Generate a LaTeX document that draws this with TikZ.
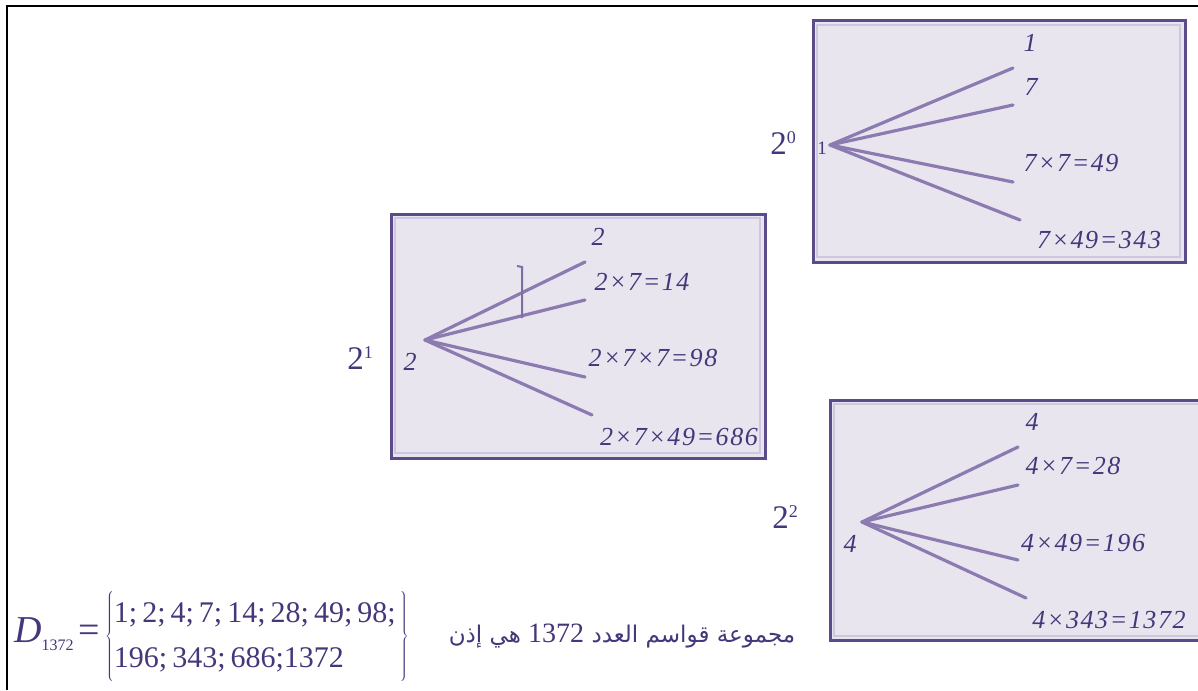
\documentclass[tikz,border=0pt]{standalone}
\usepackage{fontspec}
\setmainfont{Liberation Serif}
\newfontfamily\lblfont[LetterSpace=6]{Liberation Serif}
\newfontfamily\arabicfont[Script=Arabic]{DejaVu Sans}
\TeXXeTstate=1
\definecolor{boxfill}{HTML}{E9E5EF}
\definecolor{boxdraw}{HTML}{5B4B8B}
\definecolor{boxinner}{HTML}{CFC6DF}
\definecolor{branch}{HTML}{8B7BB0}
\definecolor{txt}{HTML}{46367A}
\newcommand{\supsc}[1]{\raisebox{11pt}{\fontsize{18}{18}\selectfont #1}}
\tikzset{
  panel/.style={draw=boxdraw, line width=3pt, fill=boxfill},
  innerline/.style={draw=boxinner, line width=1.2pt},
  branchline/.style={draw=branch, line width=3.2pt, line cap=round},
  markline/.style={draw=boxdraw!80, line width=2pt},
  lbl/.style={text=txt, font=\fontsize{26}{28}\selectfont\lblfont\itshape, inner sep=0pt},
  rootsmall/.style={text=txt, font=\fontsize{19}{20}\selectfont, inner sep=0pt},
  pow/.style={text=txt, font=\fontsize{33}{34}\selectfont, inner sep=0pt},
  formula/.style={text=txt, font=\fontsize{30}{45}\selectfont, inner sep=0pt},
  arab/.style={text=txt, font=\fontsize{23}{26}\selectfont, inner sep=0pt},
  frameline/.style={draw=black, line width=2.5pt}
}
\begin{document}
\begin{tikzpicture}[x=1pt,y=-1pt]
\useasboundingbox (0,0) rectangle (1198,690);
\draw[frameline] (7,690) -- (7,6) -- (1198,6);

% Panel 2^0
\path[panel] (813,21) rectangle (1185,262);
\draw[innerline] (817,25) rectangle (1180,257);
\coordinate (a0) at (830,145);
\coordinate (a1) at (1013,68);
\coordinate (a2) at (1013,105);
\coordinate (a3) at (1013,182);
\coordinate (a4) at (1020,220);
\foreach \e in {a1,a2,a3,a4} \draw[branchline] (a0) -- (\e);
\node[rootsmall] (ar0) at (822,148) {1};
\node[lbl] (al1) at (1030,43) {1};
\node[lbl] (al2) at (1031,87) {7};
\node[lbl] (al3) at (1071,163) {7×7=49};
\node[lbl] (al4) at (1099,240) {7×49=343};
\node[pow] (p0) at (783,143) {2\supsc{0}};

% Panel 2^1
\path[panel] (391,214) rectangle (765,458);
\draw[innerline] (395,218) rectangle (760,453);
\coordinate (b0) at (425,340);
\coordinate (b1) at (585,262);
\coordinate (b2) at (585,300);
\coordinate (b3) at (585,377);
\coordinate (b4) at (592,415);
\foreach \e in {b1,b2,b3,b4} \draw[branchline] (b0) -- (\e);
\coordinate (m0) at (517,266);
\coordinate (m1) at (522,267);
\coordinate (m2) at (522,318);
\draw[markline] (m0) -- (m1) -- (m2);
\node[lbl] (br0) at (410,362) {2};
\node[lbl] (bl1) at (598,237) {2};
\node[lbl] (bl2) at (642,282) {2×7=14};
\node[lbl] (bl3) at (653,358) {2×7×7=98};
\node[lbl] (bl4) at (679,437) {2×7×49=686};
\node[pow] (p1) at (360,358) {2\supsc{1}};

% Panel 2^2
\path[panel] (830,400) rectangle (1202,640);
\draw[innerline] (834,404) rectangle (1210,636);
\coordinate (c0) at (862,522);
\coordinate (c1) at (1018,447);
\coordinate (c2) at (1018,485);
\coordinate (c3) at (1018,560);
\coordinate (c4) at (1026,598);
\foreach \e in {c1,c2,c3,c4} \draw[branchline] (c0) -- (\e);
\node[lbl] (cr0) at (850,544) {4};
\node[lbl] (cl1) at (1032,422) {4};
\node[lbl] (cl2) at (1073,466) {4×7=28};
\node[lbl] (cl3) at (1083,543) {4×49=196};
\node[lbl] (cl4) at (1109,620) {4×343=1372};
\node[pow] (p2) at (785,517) {2\supsc{2}};

% Result
\node[formula, anchor=west] (d) at (14,636) {{\fontsize{38}{38}\selectfont\textit{D}}\raisebox{-8pt}{\fontsize{16}{16}\selectfont 1372}\,{\fontsize{38}{38}\selectfont =}\,$\left\{\begin{tabular}{@{}l@{}}1;\,2;\,4;\,7;\,14;\,28;\,49;\,98;\\196;\,343;\,686;1372\end{tabular}\,\right\}$};
\node[arab] (ar) at (622,636) {\arabicfont\beginR مجموعة قواسم العدد {\rmfamily\fontsize{28}{28}\selectfont\beginL 1372\endL} هي إذن\endR};
\end{tikzpicture}
\end{document}
